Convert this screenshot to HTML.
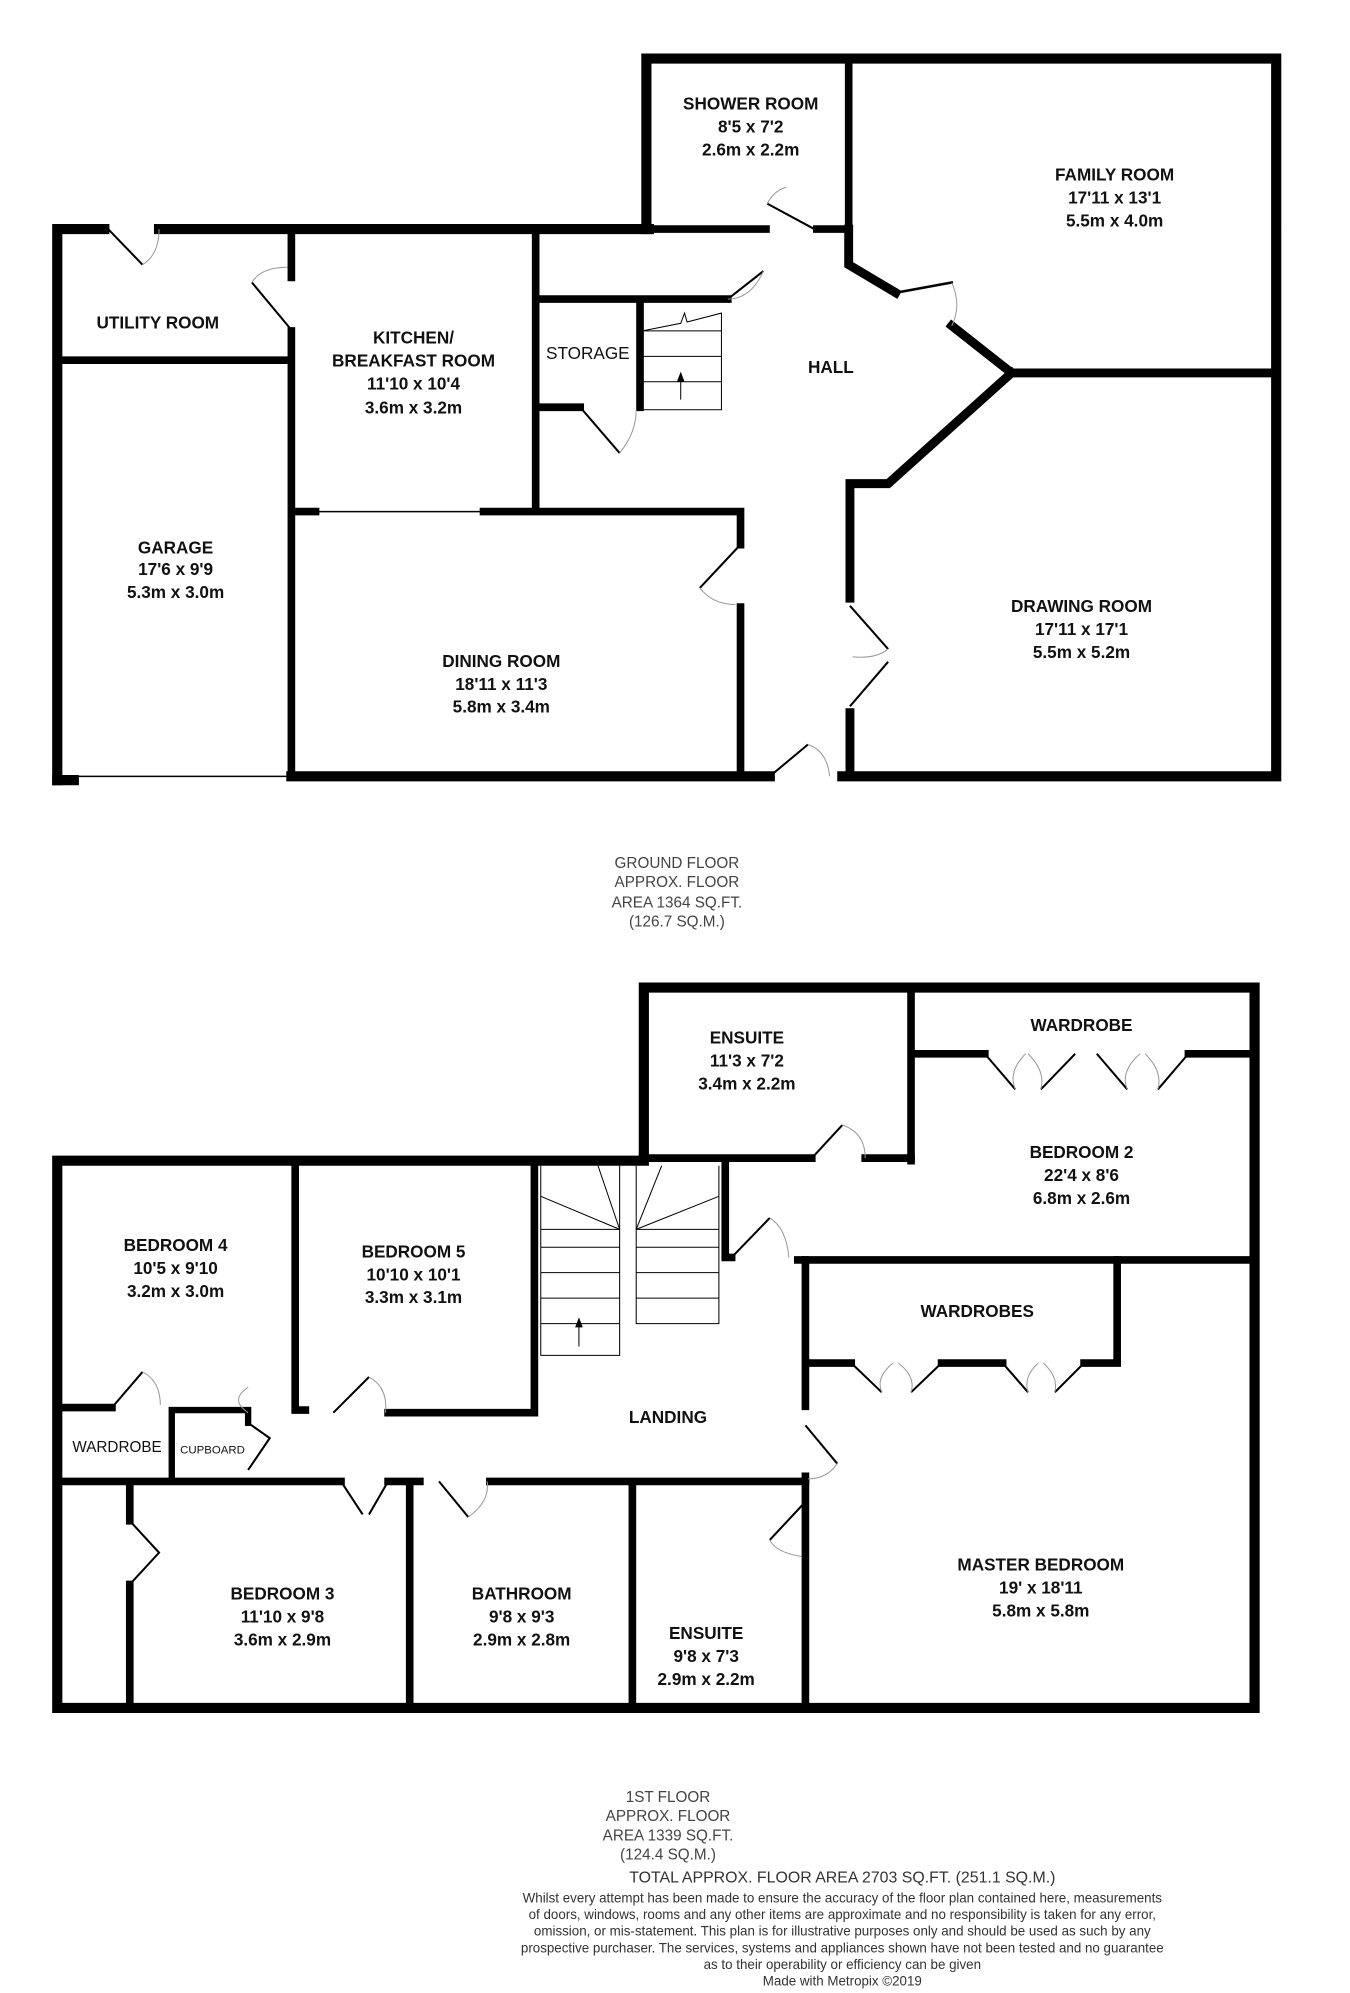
<!DOCTYPE html>
<html><head><meta charset="utf-8"><style>
html,body{margin:0;padding:0;background:#fff}
svg{display:block}
text{font-family:"Liberation Sans",sans-serif;text-anchor:middle;fill:#111}
.l{font-size:13.5px;font-weight:bold}
.s{font-size:12px;fill:#444}
.d{font-size:10.5px;fill:#333}
</style></head><body>
<svg width="1350" height="1993" viewBox="0 0 1061 1566" preserveAspectRatio="none" xmlns="http://www.w3.org/2000/svg">
<g stroke="#000" stroke-linecap="square" fill="none">
<path stroke-width="8" d="M508 180 V46 H1003 V610 H662"/>
<path stroke-width="8" d="M605 610 H229"/>
<path stroke-width="8" d="M45 613 V180 H82 M125 180 H510"/>
<path stroke-width="8" d="M45 613 H58"/>
<path stroke-width="1.2" d="M58 610 H226"/>
<path stroke-width="6" d="M48 283 H225"/>
<path stroke-width="6" d="M229 183 V218 M229 260 V610"/>
<path stroke-width="6" d="M421 183 V400"/>
<path stroke-width="6" d="M232 402 H248 M380 402 H582 V428 M582 477 V608"/>
<path stroke-width="1.2" d="M248 402 H380"/>
<path stroke-width="6" d="M512 180 H602 M642 180 H667"/>
<path stroke-width="6" d="M667 48 V180"/>
<path stroke-width="7" d="M667 180 V208 L704 230"/>
<path stroke-width="2" d="M704 230 L748 222"/>
<path stroke-width="7" d="M748 256 L795 293 H1000"/>
<path stroke-width="7" d="M795 293 L698 380 H668 V470 M668 560 V608"/>
<path stroke-width="6" d="M424 235 H572"/>
<path stroke-width="6" d="M503 240 V320"/>
<path stroke-width="6" d="M424 320 H456"/>
</g>
<g stroke="#000" stroke-width="1.6" fill="none">
<path d="M85 180 L112 208"/><path d="M198 222 L228 258"/><path d="M603 160 L640 180"/>
<path d="M572 235 L600 213"/><path d="M456 320 L487 356"/><path d="M550 462 L580 430"/>
<path d="M668 476 L698 510"/><path d="M668 555 L698 520"/><path d="M605 610 L635 585"/>
</g>
<g stroke="#999" stroke-width="0.8" fill="none">
<path d="M112 208 Q125 200 125 180"/><path d="M198 222 Q205 210 226 210"/>
<path d="M603 160 Q608 150 618 147"/><path d="M572 235 Q590 235 600 213"/>
<path d="M487 356 Q500 340 500 322"/><path d="M550 462 Q560 475 578 475"/>
<path d="M748 222 Q756 240 748 256"/><path d="M698 510 Q688 518 670 516"/>
<path d="M635 585 Q650 590 652 610"/>
</g>
<g stroke="#000" stroke-width="0.8" fill="none">
<path d="M505 260 L535 254 L538 246 L540 253 L567 246 V322 H505"/>
<path d="M505 260 H567 M505 280 H567 M505 300 H567"/>
<path d="M535 314 V296"/>
</g>
<path d="M535 292 L532 300 H538 Z" fill="#000"/>

<g stroke="#000" stroke-linecap="square" fill="none">
<path stroke-width="8" d="M506 912 V776 H986 V1342 H45 V912 H506"/>
<path stroke-width="6" d="M716 780 V912"/>
<path stroke-width="6" d="M510 910 H638 M680 910 H716"/>
<path stroke-width="6" d="M720 828 H774 M934 828 H982"/>
<path stroke-width="6" d="M570 915 V988 H575"/>
<path stroke-width="6" d="M627 990 H982"/>
<path stroke-width="6" d="M633 990 V1105 M633 1160 V1340"/>
<path stroke-width="6" d="M636 1071 H669 M740 1071 H788 M852 1071 H878 V990"/>
<path stroke-width="6" d="M232 915 V1108 H240 M305 1110 H420 V915"/>
<path stroke-width="6" d="M48 1106 H88"/>
<path stroke-width="5" d="M135 1108 V1163 M138 1108 H195 V1118"/>
<path stroke-width="6" d="M48 1164 H268 M305 1164 H330 M385 1164 H633"/>
<path stroke-width="6" d="M102 1168 V1195 M102 1245 V1340"/>
<path stroke-width="6" d="M322 1168 V1340 M497 1168 V1340"/>
</g>
<g stroke="#000" stroke-width="1.6" fill="none">
<path d="M638 910 L662 884"/><path d="M575 988 L605 957"/>
<path d="M774 828 L798 856 M845 828 L818 856 M862 828 L886 856 M934 828 L910 856"/>
<path d="M669 1071 L693 1094 M740 1071 L716 1094 M788 1071 L808 1094 M852 1071 L829 1094"/>
<path d="M88 1106 L112 1078"/><path d="M195 1118 L212 1130 L195 1155"/>
<path d="M262 1110 L290 1082"/><path d="M268 1164 L285 1190"/><path d="M305 1164 L290 1190"/>
<path d="M345 1164 L368 1192"/><path d="M102 1195 L125 1220 L102 1245"/>
<path d="M633 1120 L658 1150"/><path d="M633 1180 L605 1210"/>
</g>
<g stroke="#999" stroke-width="0.8" fill="none">
<path d="M662 884 Q680 890 680 910"/><path d="M605 957 Q618 965 620 988"/>
<path d="M798 856 Q792 842 806 828 M818 856 Q822 842 808 828"/>
<path d="M886 856 Q880 842 896 828 M910 856 Q914 842 900 828"/>
<path d="M693 1094 Q688 1082 702 1071 M716 1094 Q720 1082 706 1071"/>
<path d="M808 1094 Q804 1082 816 1071 M829 1094 Q832 1082 820 1071"/>
<path d="M112 1078 Q126 1085 126 1104"/><path d="M290 1082 Q305 1090 303 1110"/>
<path d="M368 1192 Q385 1180 383 1164"/><path d="M658 1150 Q650 1162 635 1162"/>
<path d="M605 1210 Q610 1220 630 1223"/><path d="M195 1090 Q180 1100 195 1110"/>
</g>
<g stroke="#000" stroke-width="0.8" fill="none">
<path d="M425 916 V1065 H487 V916 M500 916 V1040 H565 V916"/>
<path d="M425 980 H487 M425 1000 H487 M425 1020 H487 M425 1040 H487"/>
<path d="M500 980 H565 M500 1000 H565 M500 1020 H565"/>
<path d="M487 966 L470 916 M487 966 L425 940 M500 966 L520 916 M500 966 L565 940"/>
<path d="M500 966 H565 M425 966 H487"/>
<path d="M455 1058 V1040"/>
</g>
<path d="M455 1035 L452 1043 H458 Z" fill="#000"/>

<text class="l" x="590" y="86">SHOWER ROOM</text><text class="l" x="590" y="104">8'5 x 7'2</text><text class="l" x="590" y="122">2.6m x 2.2m</text>
<text class="l" x="876" y="142">FAMILY ROOM</text><text class="l" x="876" y="160">17'11 x 13'1</text><text class="l" x="876" y="178">5.5m x 4.0m</text>
<text class="l" x="124" y="258">UTILITY ROOM</text>
<text class="l" x="325" y="270">KITCHEN/</text><text class="l" x="325" y="288">BREAKFAST ROOM</text><text class="l" x="325" y="306">11'10 x 10'4</text><text class="l" x="325" y="325">3.6m x 3.2m</text>
<text class="l" x="462" y="282" style="font-weight:normal">STORAGE</text>
<text class="l" x="653" y="293">HALL</text>
<text class="l" x="138" y="435">GARAGE</text><text class="l" x="138" y="452">17'6 x 9'9</text><text class="l" x="138" y="470">5.3m x 3.0m</text>
<text class="l" x="394" y="524">DINING ROOM</text><text class="l" x="394" y="542">18'11 x 11'3</text><text class="l" x="394" y="560">5.8m x 3.4m</text>
<text class="l" x="850" y="481">DRAWING ROOM</text><text class="l" x="850" y="499">17'11 x 17'1</text><text class="l" x="850" y="517">5.5m x 5.2m</text>
<text class="s" x="532" y="682">GROUND FLOOR</text><text class="s" x="532" y="697">APPROX. FLOOR</text><text class="s" x="532" y="713">AREA 1364 SQ.FT.</text><text class="s" x="532" y="728">(126.7 SQ.M.)</text>
<text class="l" x="587" y="820">ENSUITE</text><text class="l" x="587" y="838">11'3 x 7'2</text><text class="l" x="587" y="856">3.4m x 2.2m</text>
<text class="l" x="850" y="810">WARDROBE</text>
<text class="l" x="850" y="910">BEDROOM 2</text><text class="l" x="850" y="928">22'4 x 8'6</text><text class="l" x="850" y="946">6.8m x 2.6m</text>
<text class="l" x="138" y="983">BEDROOM 4</text><text class="l" x="138" y="1001">10'5 x 9'10</text><text class="l" x="138" y="1019">3.2m x 3.0m</text>
<text class="l" x="325" y="988">BEDROOM 5</text><text class="l" x="325" y="1006">10'10 x 10'1</text><text class="l" x="325" y="1024">3.3m x 3.1m</text>
<text class="l" x="768" y="1035">WARDROBES</text>
<text class="l" x="525" y="1118">LANDING</text>
<text x="92" y="1141" style="font-size:12px">WARDROBE</text>
<text x="167" y="1142" style="font-size:9px">CUPBOARD</text>
<text class="l" x="222" y="1257">BEDROOM 3</text><text class="l" x="222" y="1275">11'10 x 9'8</text><text class="l" x="222" y="1293">3.6m x 2.9m</text>
<text class="l" x="410" y="1257">BATHROOM</text><text class="l" x="410" y="1275">9'8 x 9'3</text><text class="l" x="410" y="1293">2.9m x 2.8m</text>
<text class="l" x="555" y="1288">ENSUITE</text><text class="l" x="555" y="1306">9'8 x 7'3</text><text class="l" x="555" y="1324">2.9m x 2.2m</text>
<text class="l" x="818" y="1234">MASTER BEDROOM</text><text class="l" x="818" y="1252">19' x 18'11</text><text class="l" x="818" y="1270">5.8m x 5.8m</text>
<text class="s" x="525" y="1416">1ST FLOOR</text><text class="s" x="525" y="1431">APPROX. FLOOR</text><text class="s" x="525" y="1446">AREA 1339 SQ.FT.</text><text class="s" x="525" y="1461">(124.4 SQ.M.)</text>
<text x="662" y="1479" style="font-size:12.5px;fill:#333">TOTAL APPROX. FLOOR AREA 2703 SQ.FT. (251.1 SQ.M.)</text>
<text class="d" x="662" y="1495">Whilst every attempt has been made to ensure the accuracy of the floor plan contained here, measurements</text>
<text class="d" x="662" y="1508">of doors, windows, rooms and any other items are approximate and no responsibility is taken for any error,</text>
<text class="d" x="662" y="1521">omission, or mis-statement. This plan is for illustrative purposes only and should be used as such by any</text>
<text class="d" x="662" y="1534">prospective purchaser. The services, systems and appliances shown have not been tested and no guarantee</text>
<text class="d" x="662" y="1547">as to their operability or efficiency can be given</text>
<text class="d" x="662" y="1560">Made with Metropix ©2019</text>
</svg>
</body></html>
